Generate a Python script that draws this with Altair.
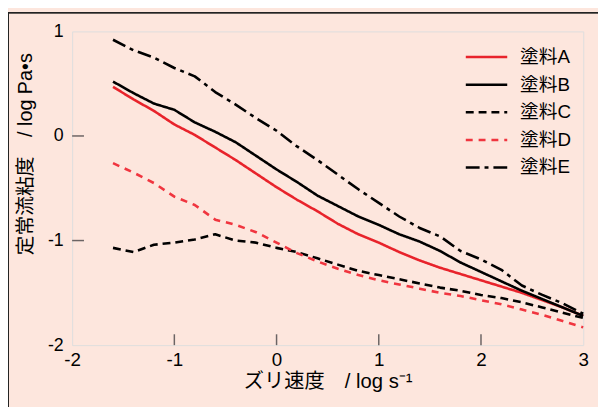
import altair as alt
import pandas as pd

# shear-rate axis (log s^-1)
x_vals = [-1.6, -1.4, -1.2, -1.0, -0.8, -0.6, -0.4, -0.2, 0.0, 0.2, 0.4, 0.6,
          0.8, 1.0, 1.2, 1.4, 1.6, 1.8, 2.0, 2.2, 2.4, 2.6, 2.8, 3.0]

paint_A = [0.47, 0.35, 0.24, 0.11, 0.01, -0.11, -0.23, -0.36, -0.49, -0.61, -0.72, -0.84,
           -0.94, -1.02, -1.11, -1.19, -1.26, -1.32, -1.38, -1.44, -1.50, -1.57, -1.64, -1.72]
paint_B = [0.52, 0.41, 0.31, 0.25, 0.13, 0.04, -0.06, -0.19, -0.32, -0.44, -0.57, -0.67,
           -0.77, -0.85, -0.94, -1.01, -1.10, -1.21, -1.30, -1.39, -1.48, -1.56, -1.64, -1.72]
paint_C = [-1.07, -1.11, -1.04, -1.02, -0.99, -0.94, -1.00, -1.02, -1.07, -1.11, -1.17, -1.23,
           -1.29, -1.33, -1.37, -1.41, -1.45, -1.48, -1.52, -1.55, -1.59, -1.64, -1.69, -1.74]
paint_D = [-0.26, -0.35, -0.45, -0.58, -0.66, -0.80, -0.85, -0.92, -1.02, -1.12, -1.20, -1.27,
           -1.33, -1.38, -1.42, -1.46, -1.50, -1.53, -1.57, -1.61, -1.66, -1.71, -1.77, -1.83]
paint_E = [0.92, 0.82, 0.75, 0.65, 0.57, 0.42, 0.30, 0.17, 0.05, -0.10, -0.23, -0.37,
           -0.51, -0.64, -0.77, -0.88, -0.96, -1.10, -1.18, -1.28, -1.43, -1.52, -1.60, -1.70]

series_names = ["塗料A", "塗料B", "塗料C", "塗料D", "塗料E"]
series_vals = [paint_A, paint_B, paint_C, paint_D, paint_E]

x_ticks = [-1, 0, 1, 2]
y_ticks = [0, -1]

rows = []
for name, vals in zip(series_names, series_vals):
    for xv, yv in zip(x_vals, vals):
        rows.append({"series": name, "x": xv, "y": yv})
df = pd.DataFrame(rows)

FONT = "Liberation Sans, Arial, Noto Sans CJK JP"
PINK = "#fde6dd"
FRAME = "#6b6464"

xscale = alt.Scale(domain=[-2, 3], nice=False, zero=False)
yscale = alt.Scale(domain=[-2, 1], nice=False, zero=False)

neg_label = "datum.value < 0 ? '-' + format(abs(datum.value), 'd') : format(datum.value, 'd')"


def legend_cfg():
    return alt.Legend(title=None, orient="none", legendX=408, legendY=14,
                      symbolType="M-2,0H2", symbolSize=441,
                      labelFontSize=19, labelOffset=22, rowPadding=6, padding=0)


lines = alt.Chart(df).mark_line(strokeCap="butt", strokeJoin="round").encode(
    x=alt.X("x:Q", scale=xscale,
            axis=alt.Axis(values=[-2, -1, 0, 1, 2, 3], title="ズリ速度　/ log s⁻¹",
                          ticks=False, domain=False, grid=False, labelPadding=6,
                          labelFontSize=19, labelExpr=neg_label, labelFlush=False,
                          labelOverlap=False, titleFontSize=20.5, titlePadding=2,
                          titleFontWeight="normal")),
    y=alt.Y("y:Q", scale=yscale,
            axis=alt.Axis(values=[-2, -1, 0, 1], title="定常流粘度　/ log Pa•s",
                          ticks=False, domain=False, grid=False, labelPadding=9,
                          labelFontSize=18, labelExpr=neg_label, labelFlush=False,
                          labelOverlap=False, titleFontSize=20, titleFontWeight="normal",
                          titleX=-47, titleY=124, titleAlign="center",
                          titleBaseline="middle", titleAngle=-90)),
    color=alt.Color("series:N",
                    scale=alt.Scale(domain=series_names,
                                    range=["#e8232b", "#000000", "#000000", "#f0353f", "#000000"]),
                    legend=legend_cfg()),
    strokeDash=alt.StrokeDash("series:N",
                              scale=alt.Scale(domain=series_names,
                                              range=[[1, 0], [1, 0], [8, 5], [7, 6], [14, 5, 4, 5]]),
                              legend=legend_cfg()),
    strokeWidth=alt.StrokeWidth("series:N",
                                scale=alt.Scale(domain=series_names,
                                                range=[2.6, 2.6, 1.8, 1.2, 1.2]),
                                legend=legend_cfg()),
    order=alt.Order("x:Q"),
)

tick_x_df = pd.DataFrame({"t": x_ticks})
tick_y_df = pd.DataFrame({"t": y_ticks})

ticks_x = alt.Chart(tick_x_df).mark_rule(color=FRAME, strokeWidth=1.5).encode(
    x=alt.X("t:Q", scale=xscale), y=alt.value(318), y2=alt.value(307))
ticks_y = alt.Chart(tick_y_df).mark_rule(color=FRAME, strokeWidth=1.5).encode(
    y=alt.Y("t:Q", scale=yscale), x=alt.value(0), x2=alt.value(12))

outer_top = alt.Chart(tick_x_df).mark_rule(color="#222222", strokeWidth=1.3).encode(
    x=alt.value(-65), x2=alt.value(540), y=alt.value(-19))
outer_left = alt.Chart(tick_x_df).mark_rule(color="#222222", strokeWidth=1.3).encode(
    x=alt.value(-65), y=alt.value(-19), y2=alt.value(400))

chart = alt.layer(lines, ticks_x, ticks_y, outer_top, outer_left).properties(
    width=518, height=318,
    autosize=alt.AutoSizeParams(type="none"),
    padding={"left": 65, "top": 21, "right": 15, "bottom": 60},
    background=PINK,
).configure_view(
    stroke=FRAME, strokeWidth=1.5, fill=PINK,
).configure(
    font=FONT,
).configure_axis(
    labelColor="#000000", titleColor="#000000", labelFont=FONT, titleFont=FONT,
).configure_legend(
    labelFont=FONT, labelColor="#000000",
)

chart.save("out.html", embed_options={"renderer": "svg", "actions": False})
